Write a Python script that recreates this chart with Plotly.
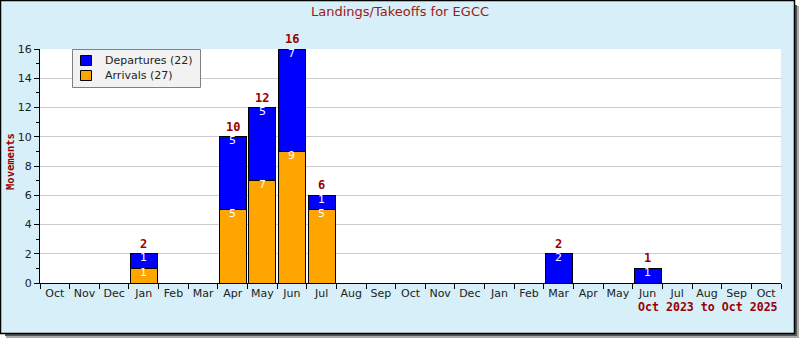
import plotly.graph_objects as go

months = ["Oct", "Nov", "Dec", "Jan", "Feb", "Mar", "Apr", "May", "Jun", "Jul", "Aug", "Sep",
          "Oct", "Nov", "Dec", "Jan", "Feb", "Mar", "Apr", "May", "Jun", "Jul", "Aug", "Sep", "Oct"]
departures = [0, 0, 0, 1, 0, 0, 5, 5, 7, 1, 0, 0, 0, 0, 0, 0, 0, 2, 0, 0, 1, 0, 0, 0, 0]
arrivals = [0, 0, 0, 1, 0, 0, 5, 7, 9, 5, 0, 0, 0, 0, 0, 0, 0, 0, 0, 0, 0, 0, 0, 0, 0]
y_ticks = [0, 2, 4, 6, 8, 10, 12, 14, 16]
title_text = "Landings/Takeoffs for EGCC"
range_text = "Oct 2023 to Oct 2025"

W, H = 800, 340
L, R, T, B = 40, 781, 49, 283


def px(x):
    return (x - L) / (R - L)


def py(y):
    return (B - y) / (B - T)


DARKRED = "#990000"
BLUE = "#0000ff"
ORANGE = "#ffa500"
xs = list(range(len(months)))

fig = go.Figure()
fig.add_trace(go.Bar(
    x=xs, y=[v if v else None for v in arrivals], name=f"Arrivals ({sum(arrivals)})",
    marker=dict(color=ORANGE, line=dict(color="black", width=1)),
    hoverinfo="skip"))
fig.add_trace(go.Bar(
    x=xs, y=[v if v else None for v in departures], name=f"Departures ({sum(departures)})",
    marker=dict(color=BLUE, line=dict(color="black", width=1)),
    hoverinfo="skip"))

annotations = []
for i in xs:
    a, d = arrivals[i], departures[i]
    if a:
        annotations.append(dict(x=i, y=a, xref="x", yref="y", text=str(a), showarrow=False,
                                yanchor="middle", yshift=-4,
                                font=dict(family="DejaVu Sans", size=11, color="white")))
    if d:
        annotations.append(dict(x=i, y=a + d, xref="x", yref="y", text=str(d), showarrow=False,
                                yanchor="middle", yshift=-4,
                                font=dict(family="DejaVu Sans", size=11, color="white")))
    if a + d:
        annotations.append(dict(x=i, y=a + d, xref="x", yref="y", text=str(a + d), showarrow=False,
                                yanchor="bottom", yshift=1,
                                font=dict(family="DejaVu Sans Mono", size=12, color=DARKRED,
                                          weight="bold")))

annotations.append(dict(x=px(400), y=py(12), xref="paper", yref="paper", text=title_text,
                        showarrow=False, xanchor="center", yanchor="middle",
                        font=dict(family="DejaVu Sans", size=13, color="#a01818")))
annotations.append(dict(x=px(10), y=py(162), xref="paper", yref="paper", text="Movements",
                        showarrow=False, xanchor="center", yanchor="middle", textangle=-90,
                        font=dict(family="DejaVu Sans Mono", size=10.5, color=DARKRED, weight="bold")))
annotations.append(dict(x=px(780), y=py(307), xref="paper", yref="paper", text=range_text,
                        showarrow=False, xanchor="right", yanchor="middle",
                        font=dict(family="DejaVu Sans Mono", size=11.6, color=DARKRED, weight="bold")))

# manual legend text
legend_items = [(f"Departures ({sum(departures)})", BLUE, 55, 66),
                (f"Arrivals ({sum(arrivals)})", ORANGE, 70, 81)]
for label, color, y0, y1 in legend_items:
    annotations.append(dict(x=px(103), y=py((y0 + y1) / 2), xref="paper", yref="paper", text=label,
                            showarrow=False, xanchor="left", yanchor="middle",
                            font=dict(family="DejaVu Sans", size=11, color="#222222")))

shapes = [
    # shadow
    dict(type="rect", xref="paper", yref="paper", x0=px(795), x1=px(797), y0=py(5), y1=py(336),
         fillcolor="#555555", line=dict(width=0), layer="below"),
    dict(type="rect", xref="paper", yref="paper", x0=px(797), x1=px(799), y0=py(6), y1=py(338),
         fillcolor="#aaaaaa", line=dict(width=0), layer="below"),
    dict(type="rect", xref="paper", yref="paper", x0=px(5), x1=px(797), y0=py(334), y1=py(336),
         fillcolor="#555555", line=dict(width=0), layer="below"),
    dict(type="rect", xref="paper", yref="paper", x0=px(6), x1=px(799), y0=py(336), y1=py(338),
         fillcolor="#aaaaaa", line=dict(width=0), layer="below"),
    # frame
    dict(type="rect", xref="paper", yref="paper", x0=px(0.5), x1=px(794.5), y0=py(0.5), y1=py(333.5),
         fillcolor="#d7eff8", line=dict(color="black", width=1.5), layer="below"),
    # plot area
    dict(type="rect", xref="paper", yref="paper", x0=0, x1=1, y0=0, y1=1,
         fillcolor="white", line=dict(width=0), layer="below"),
    # legend box
    dict(type="rect", xref="paper", yref="paper", x0=px(72.5), x1=px(200.5), y0=py(49.5), y1=py(87.5),
         fillcolor="#f2f2f2", line=dict(color="#808080", width=1), layer="above"),
]
for label, color, y0, y1 in legend_items:
    shapes.append(dict(type="rect", xref="paper", yref="paper", x0=px(80.5), x1=px(91.5),
                       y0=py(y0 + 0.5), y1=py(y1 - 0.5), fillcolor=color,
                       line=dict(color="black", width=1), layer="above"))

fig.update_layout(
    width=W, height=H,
    margin=dict(l=L, r=W - R, t=T, b=H - B, pad=0),
    paper_bgcolor="white",
    plot_bgcolor="rgba(0,0,0,0)",
    barmode="stack",
    bargap=0.09,
    showlegend=False,
    annotations=annotations,
    shapes=shapes,
    xaxis=dict(range=[-0.5, len(months) - 0.5], tickmode="array", tickvals=xs, ticktext=months,
               ticks="", showgrid=False, zeroline=False, showline=True, linecolor="black",
               linewidth=1, tickfont=dict(family="DejaVu Sans", size=11, color="#222222"),
               minor=dict(tickmode="array", tickvals=[i - 0.5 for i in range(len(months) + 1)],
                          ticks="outside", ticklen=5, tickcolor="black", showgrid=False),
               fixedrange=True),
    yaxis=dict(range=[0, 16], tickmode="array", tickvals=y_ticks, ticks="outside", ticklen=5,
               tickcolor="black", showgrid=True, gridcolor="#cccccc", gridwidth=1,
               zeroline=False, showline=True, linecolor="black", linewidth=1,
               tickfont=dict(family="DejaVu Sans", size=11, color="#222222"),
               minor=dict(dtick=1, ticks="outside", ticklen=3, tickcolor="black", showgrid=False),
               fixedrange=True),
)

fig.write_html("out.html", config={"displayModeBar": False})
